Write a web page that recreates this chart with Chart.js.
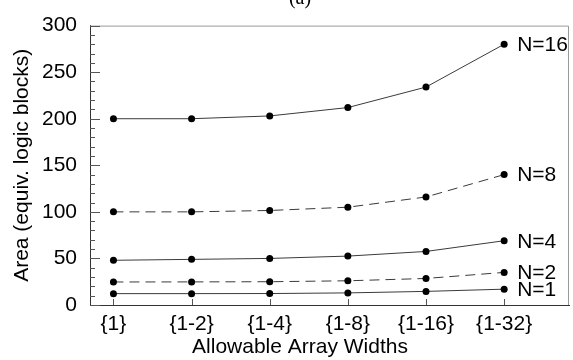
<!DOCTYPE html>
<html>
<head>
<meta charset="utf-8">
<script src="https://cdn.jsdelivr.net/npm/chart.js@4/dist/chart.umd.min.js"></script>
<style>
  html, body { margin: 0; padding: 0; background: #fff; }
  #wrap { width: 573px; height: 360px; }
</style>
</head>
<body>
<div id="wrap"><canvas id="areaChart"></canvas></div>
<script>
// Allowable array widths (x categories)
const widths = ['{1}', '{1-2}', '{1-4}', '{1-8}', '{1-16}', '{1-32}'];
// Area values, one array per N
const areaN16 = [200, 200, 203, 212, 234, 280];
const areaN8 = [100, 100, 101.5, 105, 116, 140];
const areaN4 = [48, 49, 50, 52.5, 57.5, 69];
const areaN2 = [24.7, 24.8, 25, 26, 28.5, 35];
const areaN1 = [12.2, 12.2, 12.3, 13, 14.6, 17];
const seriesNames = ['N=16', 'N=8', 'N=4', 'N=2', 'N=1'];
const yTicks = [0, 50, 100, 150, 200, 250, 300];

const FONT = 'Liberation Sans, Arial, Helvetica, sans-serif';
const FSIZE = 21;

function makeSet(label, values, dashed) {
    return {
        label: label,
        data: values.map((v, i) => ({ x: i, y: v })),
        borderColor: '#3a3a3a',
        borderWidth: 1,
        borderDash: dashed ? [10, 6] : [],
        pointRadius: 3.5,
        pointBackgroundColor: '#000',
        pointBorderWidth: 0,
        fill: false,
        tension: 0
    };
}

// inward tick marks, frame, labels and titles
const decorPlugin = {
    id: 'decor',
    afterDraw(chart) {
        const ctx = chart.ctx;
        const a = chart.chartArea;
        const xs = chart.scales.x;
        const ys = chart.scales.y;
        ctx.save();

        // light frame on top and right
        ctx.strokeStyle = '#999';
        ctx.lineWidth = 1;
        ctx.beginPath();
        ctx.moveTo(a.left, a.top + 0.5);
        ctx.lineTo(a.right - 0.5, a.top + 0.5);
        ctx.lineTo(a.right - 0.5, a.bottom);
        ctx.stroke();

        // ticks on y axis: long at labelled values, short in between
        ctx.strokeStyle = '#555';
        ctx.beginPath();
        for (let v = 0; v <= 300; v += 10) {
            const y = Math.round(ys.getPixelForValue(v)) + 0.5;
            ctx.moveTo(a.left, y);
            ctx.lineTo(a.left + (v % 50 === 0 ? 10 : 5), y);
        }
        // ticks on x axis
        widths.forEach((w, i) => {
            const x = Math.round(xs.getPixelForValue(i)) + 0.5;
            ctx.moveTo(x, a.bottom);
            ctx.lineTo(x, a.bottom - 6);
        });
        ctx.stroke();

        // series labels next to the last point
        ctx.fillStyle = '#000';
        ctx.font = FSIZE + 'px ' + FONT;
        ctx.textAlign = 'left';
        ctx.textBaseline = 'middle';
        chart.data.datasets.forEach((ds, i) => {
            const pts = chart.getDatasetMeta(i).data;
            const p = pts[pts.length - 1];
            ctx.fillText(seriesNames[i], p.x + 13, p.y + 1);
        });

        // x axis title
        ctx.textAlign = 'center';
        ctx.fillText('Allowable Array Widths', 300, 347);

        // panel label, cut off at the top edge
        ctx.font = '20px Liberation Serif, Times New Roman, serif';
        ctx.textBaseline = 'alphabetic';
        ctx.fillText('(a)', 300, 4);

        ctx.restore();
    }
};

function initChart() {
    const ctx = document.getElementById('areaChart').getContext('2d');
    new Chart(ctx, {
        type: 'line',
        data: {
            datasets: [
                makeSet(seriesNames[0], areaN16, false),
                makeSet(seriesNames[1], areaN8, true),
                makeSet(seriesNames[2], areaN4, false),
                makeSet(seriesNames[3], areaN2, true),
                makeSet(seriesNames[4], areaN1, false)
            ]
        },
        options: {
            responsive: false,
            animation: false,
            devicePixelRatio: 1,
            layout: { padding: { top: 17, right: 4, left: 0, bottom: 0 } },
            plugins: {
                legend: { display: false },
                tooltip: { enabled: false }
            },
            scales: {
                x: {
                    type: 'linear',
                    min: -0.3,
                    max: 5.83,
                    afterBuildTicks: (scale) => {
                        scale.ticks = widths.map((w, i) => ({ value: i }));
                    },
                    afterFit: (scale) => { scale.height = 55; },
                    grid: { display: false, drawTicks: false },
                    border: { display: true, color: '#333', width: 1 },
                    ticks: {
                        padding: 7,
                        color: '#000',
                        font: { family: FONT, size: FSIZE },
                        maxRotation: 0,
                        autoSkip: false,
                        callback: (v) => widths[v]
                    }
                },
                y: {
                    min: 0,
                    max: 300,
                    afterBuildTicks: (scale) => {
                        scale.ticks = yTicks.map((v) => ({ value: v }));
                    },
                    afterFit: (scale) => { scale.width = 90; },
                    grid: { display: false, drawTicks: false },
                    border: { display: true, color: '#333', width: 1 },
                    ticks: {
                        padding: 13,
                        color: '#000',
                        font: { family: FONT, size: FSIZE }
                    },
                    title: {
                        display: true,
                        text: 'Area (equiv. logic blocks)',
                        color: '#000',
                        font: { family: FONT, size: FSIZE },
                        padding: { top: 10, bottom: 0 }
                    }
                }
            }
        },
        plugins: [decorPlugin]
    });
}

const cv = document.getElementById('areaChart');
cv.width = 573;
cv.height = 360;
initChart();
</script>
</body>
</html>
